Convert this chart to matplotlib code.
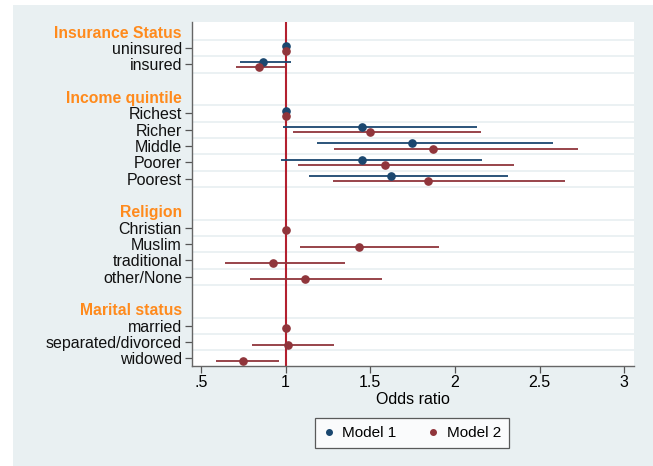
import matplotlib.pyplot as plt
from matplotlib.patches import Rectangle
from matplotlib.lines import Line2D
import numpy as np

plt.rcParams['font.family'] = ['Liberation Sans', 'DejaVu Sans']

# groups and row labels
groups = ["Insurance Status", "Income quintile", "Religion", "Marital status"]
labels = [
    ["uninsured", "insured"],
    ["Richest", "Richer", "Middle", "Poorer", "Poorest"],
    ["Christian", "Muslim", "traditional", "other/None"],
    ["married", "separated/divorced", "widowed"],
]

# Model 1 (only insurance + income)
m1_or = [[1.0, 0.868], [1.0, 1.449, 1.745, 1.452, 1.62], None, None]
m1_lo = [[None, 0.728], [None, 0.986, 1.184, 0.975, 1.138], None, None]
m1_hi = [[None, 1.03], [None, 2.128, 2.576, 2.159, 2.311], None, None]

# Model 2
m2_or = [[1.0, 0.84], [1.0, 1.496, 1.871, 1.587, 1.84],
         [1.0, 1.435, 0.927, 1.113], [1.0, 1.012, 0.749]]
m2_lo = [[None, 0.708], [None, 1.041, 1.287, 1.073, 1.279],
         [None, 1.083, 0.639, 0.791], [None, 0.799, 0.588]]
m2_hi = [[None, 1.0], [None, 2.152, 2.728, 2.349, 2.651],
         [None, 1.903, 1.348, 1.567], [None, 1.287, 0.959]]

navy = '#1a476f'
maroon = '#90353b'
orange = '#ff8a1c'
bg = '#e9f0f2'

fig = plt.figure(figsize=(6.53, 4.66), dpi=100)
fig.patches.append(Rectangle((13 / 653, 0), 1, 1 - 5 / 466, transform=fig.transFigure,
                             facecolor=bg, edgecolor='none', zorder=-10))
ax = fig.add_axes([191.7 / 653, 1 - 365.7 / 466, 442.3 / 653, 343.7 / 466])

ticks, ticklabels, is_header = [], [], []
grid_y = []
pos = 0
off = 0.16
for g, name in enumerate(groups):
    ticks.append(pos); ticklabels.append(name); is_header.append(True)
    grid_y.append(pos + 0.5)
    pos += 1
    for i, lab in enumerate(labels[g]):
        ticks.append(pos); ticklabels.append(lab); is_header.append(False)
        grid_y.append(pos + 0.5)
        for ors, los, his, col, d in [(m1_or, m1_lo, m1_hi, navy, -off),
                                      (m2_or, m2_lo, m2_hi, maroon, off)]:
            if ors[g] is None:
                continue
            if los[g][i] is not None:
                ax.hlines(pos + d, los[g][i], his[g][i], color=col, lw=1.3, zorder=3)
            ax.plot(ors[g][i], pos + d, 'o', color=col, ms=5.2, zorder=4)
        pos += 1
    pos += 1

for y in grid_y:
    ax.axhline(y, color=bg, lw=1.3, zorder=1)
ax.axvline(1, color='#b3202f', lw=1.5, zorder=2)

ax.set_xlim(0.445, 3.057)
ax.set_ylim(20.45, -0.6)
ax.set_xticks([0.5, 1, 1.5, 2, 2.5, 3])
ax.set_xticklabels(['.5', '1', '1.5', '2', '2.5', '3'], fontsize=11.5)
ax.set_xlabel('Odds ratio', fontsize=11.5, labelpad=1)
ax.set_yticks(ticks)
ax.set_yticklabels(ticklabels, fontsize=11.5)
ax.tick_params(axis='both', length=5, width=0.9, color='#555555', pad=2)
for t, lab, h in zip(ax.yaxis.get_major_ticks(), ax.get_yticklabels(), is_header):
    if h:
        t.tick1line.set_visible(False)
        lab.set_color(orange)
        lab.set_fontweight('bold')
        lab.set_fontsize(11.3)
    else:
        lab.set_color('#111111')
for s in ['top', 'right']:
    ax.spines[s].set_visible(False)
for s in ['left', 'bottom']:
    ax.spines[s].set_color('#666666')
    ax.spines[s].set_linewidth(1.0)

handles = [Line2D([], [], ls='none', marker='o', color=navy, ms=4),
           Line2D([], [], ls='none', marker='o', color=maroon, ms=4)]
leg = fig.legend(handles, ['Model 1', 'Model 2'], loc='center', ncol=2,
                 bbox_to_anchor=(412 / 653, 1 - 433 / 466), fontsize=11,
                 frameon=True, fancybox=False, edgecolor='#333333',
                 handlelength=0.8, handletextpad=0.5, columnspacing=2.0,
                 borderpad=0.5, borderaxespad=0)
leg.get_frame().set_linewidth(0.9)

fig.savefig('out.png', dpi=100)
